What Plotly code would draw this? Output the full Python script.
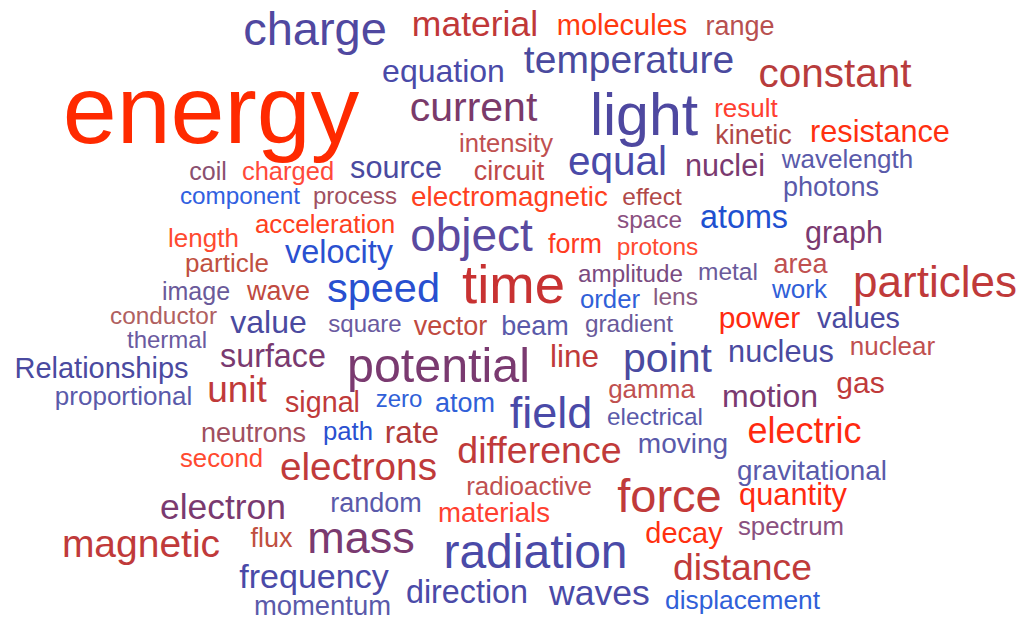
import plotly.graph_objects as go

words = ["energy", "charge", "material", "molecules", "range", "equation", "temperature", "constant",
         "light", "current", "intensity", "result", "kinetic", "resistance", "coil", "charged",
         "source", "circuit", "equal", "nuclei", "wavelength", "photons", "component", "process",
         "electromagnetic", "effect", "acceleration", "length", "object", "space", "atoms", "graph",
         "velocity", "particle", "form", "protons", "image", "wave", "speed", "time",
         "amplitude", "metal", "area", "particles", "order", "lens", "work", "conductor",
         "value", "square", "vector", "beam", "gradient", "power", "values", "thermal",
         "surface", "potential", "Relationships", "unit", "proportional", "signal", "zero", "atom",
         "line", "point", "nucleus", "nuclear", "gas", "gamma", "motion", "field",
         "electrical", "neutrons", "path", "rate", "second", "electrons", "difference", "moving",
         "electric", "gravitational", "radioactive", "force", "quantity", "random", "electron", "materials",
         "spectrum", "decay", "magnetic", "flux", "mass", "radiation", "distance", "frequency",
         "direction", "waves", "displacement", "momentum"]

word_x = [211, 315, 475, 622, 740, 443.5, 629, 835,
          644, 473.5, 506, 746, 753.5, 880, 208, 288,
          396, 509, 617.5, 725, 847.5, 831, 240, 355,
          509.5, 652, 325, 203.5, 471.5, 649.5, 744, 844,
          339, 227, 575, 657.5, 196, 278.5, 383.5, 513.5,
          630.5, 728, 800.5, 935, 610, 675.5, 799.5, 163.5,
          268.5, 365, 450.5, 535, 629, 759.5, 858.5, 167,
          273, 438.5, 101.5, 237, 123.5, 322.5, 399, 465,
          574.5, 667.5, 781, 892.5, 860.5, 651.5, 770, 551,
          655, 253.5, 348, 412, 221.5, 358.5, 539.5, 683,
          804.5, 812, 529, 669.5, 793, 376, 223, 494,
          791, 684, 141, 271.5, 361, 535.5, 742.5, 314,
          467, 599.5, 742.5, 322.5]

word_baseline = [143, 45, 36, 35, 35, 82, 73, 87,
                 135, 121, 152, 117, 144, 142, 180, 180,
                 178, 180, 175, 176, 168, 196, 204, 204,
                 206, 205, 233, 247, 251, 228, 228, 243,
                 263, 272, 253, 255, 300, 300, 302, 303,
                 282, 280, 273, 297, 308, 305, 298, 324,
                 333, 332, 335, 335, 332, 328, 328, 348,
                 367, 382, 378, 402, 405, 412, 407, 412,
                 367, 372, 362, 355, 393, 398, 407, 428,
                 425, 442, 440, 443, 467, 480, 463, 453,
                 443, 480, 495, 512, 505, 512, 519, 522,
                 535, 543, 557, 547, 553, 568, 580, 588,
                 603, 605, 609, 615]

word_size = [97, 47, 35.5, 29, 27, 32, 39, 40.5,
             59, 41, 25.6, 26, 27, 30.7, 25, 25.5,
             30.6, 27, 40.5, 30.6, 26, 27, 24.3, 24,
             27.9, 24.5, 26, 26, 46, 24.4, 32.3, 30.5,
             32.4, 26, 27, 24.5, 25, 27, 41.5, 54.5,
             24.2, 24.5, 27, 44, 25.7, 24.5, 26, 24.4,
             32, 24, 27, 27, 24.4, 30, 28.7, 24,
             32.3, 48.4, 29, 37, 26, 28.7, 24, 27,
             31.5, 41, 30.7, 26, 30, 26, 32, 45,
             24.3, 27, 25.7, 31.5, 25.8, 38.7, 37.6, 28,
             36, 27.8, 26, 47, 30.8, 27, 35.4, 27.6,
             25.8, 29, 39, 27, 45, 48, 37.3, 34,
             32.3, 35.6, 26.3, 27.4]

word_color = ["#ff2a00", "#5048a0", "#c03838", "#ff3a10", "#b85050", "#4a4aa8", "#4a4a9e", "#b83c3c",
              "#4e48a0", "#7a3a6a", "#c05050", "#ff4030", "#b04848", "#ff3010", "#8a5070", "#ff4a3a",
              "#4a4aa0", "#c04848", "#4a4aa8", "#7a3a70", "#5a5aaa", "#5a5aaa", "#3060e0", "#a05060",
              "#ff4020", "#b04848", "#ff4020", "#ff4a30", "#5a4aa0", "#8a5080", "#2050d0", "#7a3a70",
              "#2a50d0", "#c05040", "#ff3a20", "#ff4a30", "#6a5a9a", "#c04a40", "#2850d0", "#c83232",
              "#7a4a80", "#6a5a9a", "#c05050", "#c03a3a", "#3060d8", "#8a5a80", "#3060d8", "#b06060",
              "#4a4aa0", "#6a5aa0", "#c04a40", "#5a5aaa", "#6a5a9a", "#ff2a10", "#4a4aa0", "#6a5aa0",
              "#7a3a70", "#7a3a70", "#4a4aa0", "#c03a3a", "#5a5aaa", "#c03a3a", "#3060d8", "#3060d8",
              "#c03a3a", "#4a4aa0", "#4a4aa0", "#c05050", "#c03a3a", "#c05050", "#7a3a70", "#4a4aa8",
              "#5a5aaa", "#a05060", "#2a50d0", "#b03a3a", "#ff4a30", "#c03a3a", "#c03a3a", "#5a5aaa",
              "#ff2a10", "#5a5aaa", "#c05050", "#c03a3a", "#ff2a10", "#5a5aaa", "#7a3a70", "#ff4030",
              "#8a5080", "#ff3010", "#c03a3a", "#c05040", "#7a3a70", "#4a4aa8", "#c03a3a", "#4a4aa8",
              "#4a4aa8", "#4a4aa8", "#3060d8", "#5a5aaa"]

# plotly "middle center" text: baseline sits about 0.25 * font size below the anchor point
y_anchor = [b - 0.25 * s for b, s in zip(word_baseline, word_size)]

fig = go.Figure(go.Scatter(
    x=word_x, y=y_anchor, mode="text", text=words,
    textposition="middle center",
    textfont=dict(family="Liberation Sans, Arial, sans-serif", size=word_size, color=word_color),
    hoverinfo="text",
    cliponaxis=False,
))

fig.update_layout(
    width=1031, height=619,
    margin=dict(l=0, r=0, t=0, b=0),
    paper_bgcolor="white", plot_bgcolor="white",
    showlegend=False,
    xaxis=dict(range=[0, 1031], visible=False, fixedrange=True),
    yaxis=dict(range=[619, 0], visible=False, fixedrange=True),
)

fig.write_html(
    "out.html",
    config={"displayModeBar": False},
    post_script="document.body.style.margin='0';document.body.style.overflow='hidden';",
)
